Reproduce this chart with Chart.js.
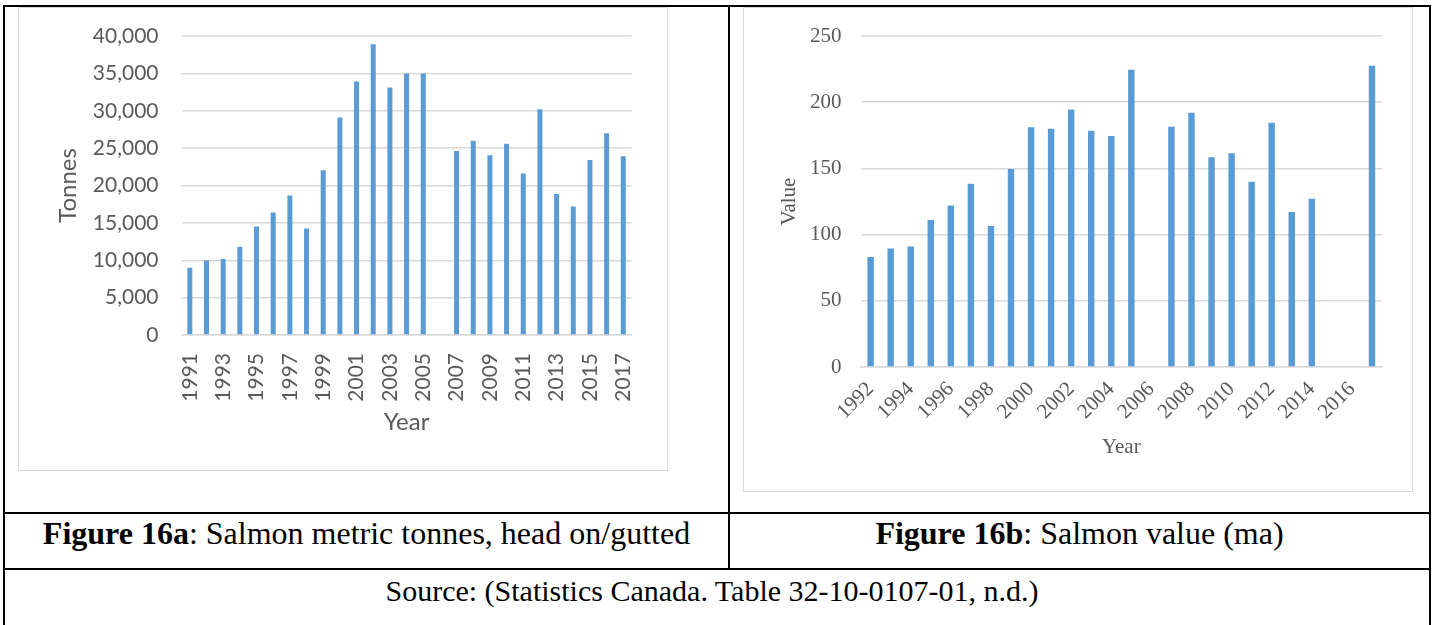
<!DOCTYPE html>
<html>
<head>
<meta charset="utf-8">
<script src="https://cdn.jsdelivr.net/npm/chart.js@4/dist/chart.umd.min.js"></script>
<style>
  body { margin: 0; background: #fff; width: 1436px; height: 625px; overflow: hidden; position: relative; }
  .line { position: absolute; background: #000; }
  .box { position: absolute; border: 1.5px solid #d9d9d9; box-sizing: border-box; background: #fff; }
  .cap { position: absolute; font-family: "Liberation Serif", "Times New Roman", serif; font-size: 32px; color: #000; text-align: center; white-space: nowrap; }
  canvas { position: absolute; }
</style>
</head>
<body>
<!-- table borders -->
<div class="line" style="left:3px;top:5px;width:1428px;height:2px"></div>
<div class="line" style="left:3px;top:5px;width:2px;height:640px"></div>
<div class="line" style="left:1429px;top:5px;width:2px;height:640px"></div>
<div class="line" style="left:728px;top:5px;width:2px;height:565px"></div>
<div class="line" style="left:3px;top:512px;width:1428px;height:2px"></div>
<div class="line" style="left:3px;top:568px;width:1428px;height:2px"></div>

<div class="box" style="left:18px;top:7px;width:650px;height:464px"></div>
<div class="box" style="left:743px;top:7px;width:670px;height:485px"></div>

<canvas id="chartA" style="left:19px;top:8px"></canvas>
<canvas id="chartB" style="left:744px;top:8px"></canvas>

<div class="cap" style="left:5px;width:723px;top:515px"><b>Figure 16a</b>: Salmon metric tonnes, head on/gutted</div>
<div class="cap" style="left:730px;width:699px;top:515px"><b>Figure 16b</b>: Salmon value (ma)</div>
<div class="cap" style="left:0px;width:1424px;top:574px;font-size:30px">Source: (Statistics Canada. Table 32-10-0107-01, n.d.)</div>

<script>
// Figure 16a - tonnes by year
const yearsA = ['1991', '1992', '1993', '1994', '1995', '1996', '1997', '1998', '1999', '2000',
  '2001', '2002', '2003', '2004', '2005', '2006', '2007', '2008', '2009', '2010',
  '2011', '2012', '2013', '2014', '2015', '2016', '2017'];
const tonnes = [9000, 9950, 10180, 11800, 14500, 16400, 18650, 14250, 22050, 29100,
  33900, 38900, 33100, 35000, 35000, null, 24600, 26000, 24050, 25600,
  21600, 30200, 18850, 17200, 23400, 27000, 23900];

// Figure 16b - value by year
const yearsB = ['1992', '1993', '1994', '1995', '1996', '1997', '1998', '1999', '2000', '2001',
  '2002', '2003', '2004', '2005', '2006', '2007', '2008', '2009', '2010', '2011',
  '2012', '2013', '2014', '2015', '2016', '2017'];
const salmonValue = [83, 89.5, 91, 111, 122, 138.5, 106.5, 149.5, 181, 180,
  194.5, 178.5, 174.5, 224.5, null, 181.5, 192, 158.5, 161.5, 140,
  184.5, 117, 127, null, null, 227.5];

const barColor = '#5b9bd5';
const gridColor = '#d9d9d9';
const textGrey = '#595959';

// only every other year gets a label
const everyOther = function (val, i) {
  return i % 2 === 0 ? this.getLabelForValue(val) : '';
};

const setup = (id, w, h) => {
  const c = document.getElementById(id);
  c.width = w;
  c.height = h;
  c.style.width = w + 'px';
  c.style.height = h + 'px';
  return c;
};

// fixed axis width, and let layout.padding decide the top of the plot
const fixY = (w) => (scale) => {
  scale.width = w;
  scale.paddingTop = 0;
  scale.paddingBottom = 0;
};

new Chart(setup('chartA', 648, 462), {
  type: 'bar',
  data: {
    labels: yearsA,
    datasets: [{ data: tonnes, backgroundColor: barColor, barPercentage: 0.3, categoryPercentage: 1 }]
  },
  options: {
    responsive: false,
    animation: false,
    layout: { padding: { top: 28, right: 28, left: 0, bottom: 0 } },
    plugins: { legend: { display: false }, tooltip: { enabled: false } },
    scales: {
      y: {
        min: 0,
        max: 40000,
        ticks: {
          stepSize: 5000,
          padding: 23,
          color: textGrey,
          font: { family: 'Lato', size: 21 },
          callback: (v) => v.toLocaleString('en-US')
        },
        grid: { color: gridColor, lineWidth: 1.5, drawTicks: false },
        border: { display: false },
        title: { display: true, text: 'Tonnes', color: textGrey, font: { family: 'Lato', size: 24 }, padding: { top: 35, bottom: 0 } },
        afterFit: fixY(162.5)
      },
      x: {
        ticks: {
          autoSkip: false,
          minRotation: 90,
          maxRotation: 90,
          padding: 18,
          color: textGrey,
          font: { family: 'Lato', size: 21 },
          callback: everyOther
        },
        grid: { display: false, drawTicks: false },
        border: { color: gridColor, width: 1.5 },
        title: { display: true, text: 'Year', color: textGrey, font: { family: 'Lato', size: 24 }, padding: { top: 0, bottom: 33 } },
        afterFit: (scale) => { scale.height = 135; }
      }
    }
  }
});

new Chart(setup('chartB', 668, 483), {
  type: 'bar',
  data: {
    labels: yearsB,
    datasets: [{ data: salmonValue, backgroundColor: barColor, barPercentage: 0.32, categoryPercentage: 1 }]
  },
  options: {
    responsive: false,
    animation: false,
    layout: { padding: { top: 28, right: 30, left: 0, bottom: 0 } },
    plugins: { legend: { display: false }, tooltip: { enabled: false } },
    scales: {
      y: {
        min: 0,
        max: 250,
        ticks: {
          stepSize: 50,
          padding: 19,
          color: textGrey,
          font: { family: 'Liberation Serif', size: 21 }
        },
        grid: { color: gridColor, lineWidth: 1.5, drawTicks: false },
        border: { display: false },
        title: { display: true, text: 'Value', color: textGrey, font: { family: 'Liberation Serif', size: 21 }, padding: { top: 33, bottom: 0 } },
        afterFit: fixY(116.6)
      },
      x: {
        ticks: {
          autoSkip: false,
          minRotation: 45,
          maxRotation: 45,
          padding: 10,
          color: textGrey,
          font: { family: 'Liberation Serif', size: 21 },
          callback: everyOther
        },
        grid: { display: false, drawTicks: false },
        border: { color: gridColor, width: 1.5 },
        title: { display: true, text: 'Year', color: textGrey, font: { family: 'Liberation Serif', size: 21 }, padding: { top: 0, bottom: 31 } },
        afterFit: (scale) => { scale.height = 124; }
      }
    }
  }
});
</script>
</body>
</html>
